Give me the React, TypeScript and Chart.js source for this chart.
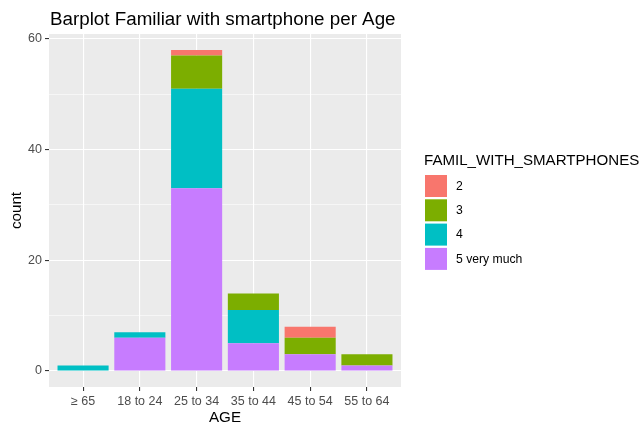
import React, { useEffect, useRef } from "react";
import { Chart, registerables } from "chart.js";

Chart.register(...registerables);

const categories = ["≥ 65", "18 to 24", "25 to 34", "35 to 44", "45 to 54", "55 to 64"];
const seriesLabels = ["2", "3", "4", "5 very much"];
const seriesColors = ["#F8766D", "#7CAE00", "#00BFC4", "#C77CFF"];
const values2 = [0, 0, 1, 0, 2, 0];
const values3 = [0, 0, 6, 3, 3, 2];
const values4 = [1, 1, 18, 6, 0, 0];
const values5 = [0, 6, 33, 5, 3, 1];
const yTickValues = [0, 10, 20, 30, 40, 50, 60];
const titleText = "Barplot Familiar with smartphone per Age";
const xTitle = "AGE";
const yTitle = "count";
const legendTitle = "FAMIL_WITH_SMARTPHONES";

const FONT = "'Liberation Sans', Arial, sans-serif";

const decorPlugin = {
  id: "decor",
  beforeDraw(chart: any) {
    const { ctx, chartArea } = chart;
    ctx.save();
    ctx.fillStyle = "#EBEBEB";
    ctx.fillRect(chartArea.left, chartArea.top, chartArea.right - chartArea.left, chartArea.bottom - chartArea.top);
    ctx.restore();
  },
  afterDraw(chart: any) {
    const { ctx, chartArea } = chart;
    ctx.save();
    ctx.fillStyle = "#000";
    ctx.font = `18.8px ${FONT}`;
    ctx.textAlign = "left";
    ctx.textBaseline = "alphabetic";
    ctx.fillText(titleText, 50, 25);
    ctx.font = `15.2px ${FONT}`;
    ctx.textAlign = "center";
    ctx.textBaseline = "middle";
    ctx.fillText(xTitle, (chartArea.left + chartArea.right) / 2, 418);
    ctx.save();
    ctx.translate(17, (chartArea.top + chartArea.bottom) / 2);
    ctx.rotate(-Math.PI / 2);
    ctx.fillText(yTitle, 0, 0);
    ctx.restore();
    ctx.textAlign = "left";
    ctx.textBaseline = "alphabetic";
    ctx.font = `15.1px ${FONT}`;
    ctx.fillText(legendTitle, 424, 165);
    ctx.font = `12.2px ${FONT}`;
    ctx.textBaseline = "middle";
    for (let i = 0; i < seriesLabels.length; i++) {
      const y = 175 + i * 24.3;
      ctx.fillStyle = seriesColors[i];
      ctx.fillRect(425, y, 22, 22);
      ctx.fillStyle = "#000";
      ctx.fillText(seriesLabels[i], 456, y + 11.5);
    }
    ctx.restore();
  },
};

export default function App() {
  const ref = useRef<HTMLCanvasElement>(null);
  useEffect(() => {
    const seriesValues = [values2, values3, values4, values5];
    const order = [3, 2, 1, 0];
    const datasets = order.map((i) => ({
      label: seriesLabels[i],
      data: seriesValues[i].map((v, k) => ({ x: k, y: v })),
      backgroundColor: seriesColors[i],
      borderWidth: 0,
      barPercentage: 0.9,
      categoryPercentage: 1,
    }));
    const chart = new Chart(ref.current as HTMLCanvasElement, {
      type: "bar",
      data: { datasets },
      plugins: [decorPlugin],
      options: {
        animation: false,
        responsive: true,
        maintainAspectRatio: false,
        layout: { padding: { top: 34, right: 239, left: 0, bottom: 0 } },
        plugins: { legend: { display: false }, title: { display: false }, tooltip: { enabled: false } },
        scales: {
          x: {
            type: "linear",
            stacked: true,
            offset: false,
            min: -0.6,
            max: 5.6,
            afterBuildTicks: (scale: any) => {
              scale.ticks = categories.map((_, i) => ({ value: i }));
            },
            afterFit: (scale: any) => {
              scale.height = 43;
            },
            border: { display: false },
            grid: { offset: false, color: "#FFFFFF", lineWidth: 1.1, tickColor: "#333333", tickLength: 4, tickWidth: 1.1 },
            ticks: {
              padding: 3,
              color: "#4D4D4D",
              font: { family: FONT, size: 12.5 },
              maxRotation: 0,
              autoSkip: false,
              callback: (v: any) => categories[Math.round(Number(v))] ?? "",
            },
          },
          y: {
            type: "linear",
            stacked: true,
            min: -2.9,
            max: 60.9,
            afterBuildTicks: (scale: any) => {
              scale.ticks = yTickValues.map((v) => ({ value: v }));
            },
            afterFit: (scale: any) => {
              scale.width = 49;
            },
            border: { display: false },
            grid: {
              color: "#FFFFFF",
              lineWidth: (c: any) => (c.tick && c.tick.value % 20 === 0 ? 1.1 : 0.55),
              tickColor: (c: any) => (c.tick && c.tick.value % 20 === 0 ? "#333333" : "rgba(0,0,0,0)"),
              tickLength: 4,
              tickWidth: 1.1,
            },
            ticks: {
              padding: 3,
              color: "#4D4D4D",
              font: { family: FONT, size: 12.5 },
              callback: (v: any) => (Number(v) % 20 === 0 ? String(v) : ""),
            },
          },
        },
      } as any,
    });
    return () => chart.destroy();
  }, []);
  return (
    <div style={{ position: "fixed", left: 0, top: 0, width: 640, height: 430, background: "#fff" }}>
      <canvas ref={ref} />
    </div>
  );
}
